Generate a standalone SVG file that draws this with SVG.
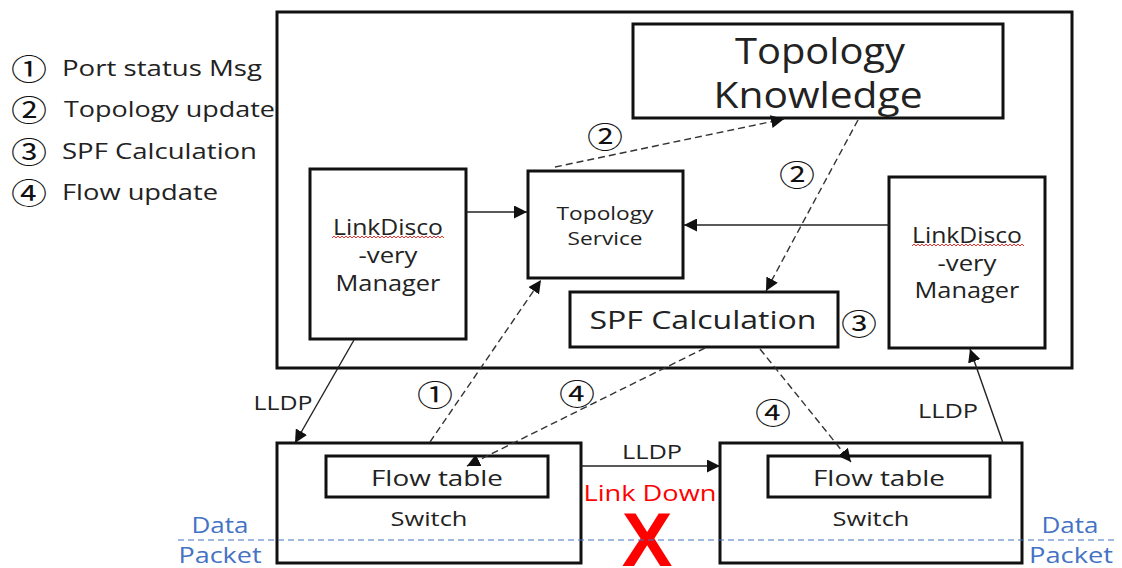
<svg xmlns="http://www.w3.org/2000/svg" width="1122" height="568" viewBox="0 0 1122 568">
<style>
.box{fill:#fff;stroke:#111;stroke-width:3}
.t{font-family:"Open Sans","Liberation Sans",sans-serif;fill:#222;text-anchor:middle;dominant-baseline:central}
.lg{font-family:"Open Sans","Liberation Sans",sans-serif;fill:#222;font-size:22px;dominant-baseline:central}
.cn{font-family:"Noto Sans CJK JP",sans-serif;fill:#111;text-anchor:middle;dominant-baseline:central}
.solid{fill:none;stroke:#222;stroke-width:1.4}
.dash{fill:none;stroke:#333;stroke-width:1.4;stroke-dasharray:7 4}
.blue{font-family:"Open Sans","Liberation Sans",sans-serif;fill:#4472C4;font-size:21px;text-anchor:middle;dominant-baseline:central}
.squig{fill:none;stroke:#e33;stroke-width:1}
</style>
<defs>
<marker id="ah" viewBox="0 0 10 10" refX="10" refY="5" markerWidth="13" markerHeight="13" markerUnits="userSpaceOnUse" orient="auto">
<path d="M0,0 L10,5 L0,10 z" fill="#111"/>
</marker>
</defs>
<rect width="1122" height="568" fill="#fff"/>

<g id="legend">
<text class="cn" x="29" y="67" font-size="30" textLength="36" lengthAdjust="spacingAndGlyphs">①</text>
<text class="lg" x="62" y="67" textLength="200" lengthAdjust="spacingAndGlyphs">Port status Msg</text>
<text class="cn" x="29" y="108" font-size="30" textLength="36" lengthAdjust="spacingAndGlyphs">②</text>
<text class="lg" x="64" y="108" textLength="211" lengthAdjust="spacingAndGlyphs">Topology update</text>
<text class="cn" x="29" y="150" font-size="30" textLength="36" lengthAdjust="spacingAndGlyphs">③</text>
<text class="lg" x="62" y="150" textLength="195" lengthAdjust="spacingAndGlyphs">SPF Calculation</text>
<text class="cn" x="29" y="191" font-size="30" textLength="36" lengthAdjust="spacingAndGlyphs">④</text>
<text class="lg" x="62" y="191" textLength="156" lengthAdjust="spacingAndGlyphs">Flow update</text>
</g>

<g id="controller"><rect class="box" x="277" y="12" width="795" height="356"/></g>

<g id="topology-knowledge">
<rect class="box" x="633" y="24" width="370" height="94"/>
<text class="t" x="820" y="50" font-size="36" textLength="170" lengthAdjust="spacingAndGlyphs">Topology</text>
<text class="t" x="818" y="94" font-size="36" textLength="209" lengthAdjust="spacingAndGlyphs">Knowledge</text>
</g>

<g id="ldm-left">
<rect class="box" x="310" y="169" width="156" height="170"/>
<text class="t" x="388" y="227" font-size="21" textLength="110" lengthAdjust="spacingAndGlyphs">LinkDisco</text>
<text class="t" x="388" y="255" font-size="21" textLength="59" lengthAdjust="spacingAndGlyphs">-very</text>
<text class="t" x="388" y="283" font-size="21" textLength="105" lengthAdjust="spacingAndGlyphs">Manager</text>
<polyline class="squig" points="332,238 334,236 336,238 338,236 340,238 342,236 344,238 346,236 348,238 350,236 352,238 354,236 356,238 358,236 360,238 362,236 364,238 366,236 368,238 370,236 372,238 374,236 376,238 378,236 380,238 382,236 384,238 386,236 388,238 390,236 392,238 394,236 396,238 398,236 400,238 402,236 404,238 406,236 408,238 410,236 412,238 414,236 416,238 418,236 420,238 422,236 424,238 426,236 428,238 430,236 432,238 434,236 436,238 438,236 440,238 442,236 444,238"/>
</g>

<g id="topology-service">
<rect class="box" x="528" y="171" width="155" height="107"/>
<text class="t" x="605" y="213" font-size="18" textLength="97" lengthAdjust="spacingAndGlyphs">Topology</text>
<text class="t" x="605" y="238" font-size="18" textLength="75" lengthAdjust="spacingAndGlyphs">Service</text>
</g>

<g id="spf">
<rect class="box" x="570" y="292" width="268" height="55"/>
<text class="t" x="703" y="319" font-size="25" textLength="227" lengthAdjust="spacingAndGlyphs">SPF Calculation</text>
</g>

<g id="ldm-right">
<rect class="box" x="889" y="177" width="156" height="171"/>
<text class="t" x="967" y="235" font-size="21" textLength="110" lengthAdjust="spacingAndGlyphs">LinkDisco</text>
<text class="t" x="967" y="263" font-size="21" textLength="59" lengthAdjust="spacingAndGlyphs">-very</text>
<text class="t" x="967" y="290" font-size="21" textLength="105" lengthAdjust="spacingAndGlyphs">Manager</text>
<polyline class="squig" points="912,246 914,244 916,246 918,244 920,246 922,244 924,246 926,244 928,246 930,244 932,246 934,244 936,246 938,244 940,246 942,244 944,246 946,244 948,246 950,244 952,246 954,244 956,246 958,244 960,246 962,244 964,246 966,244 968,246 970,244 972,246 974,244 976,246 978,244 980,246 982,244 984,246 986,244 988,246 990,244 992,246 994,244 996,246 998,244 1000,246 1002,244 1004,246 1006,244 1008,246 1010,244 1012,246 1014,244 1016,246 1018,244 1020,246 1022,244 1024,246"/>
</g>

<g id="switch-left">
<rect class="box" x="277" y="443" width="304" height="120"/>
<rect class="box" x="326" y="456" width="222" height="41"/>
<text class="t" x="437" y="477" font-size="22" textLength="132" lengthAdjust="spacingAndGlyphs">Flow table</text>
<text class="t" x="429" y="518" font-size="20" textLength="77" lengthAdjust="spacingAndGlyphs">Switch</text>
</g>

<g id="switch-right">
<rect class="box" x="720" y="443" width="302" height="120"/>
<rect class="box" x="768" y="456" width="222" height="41"/>
<text class="t" x="879" y="477" font-size="22" textLength="132" lengthAdjust="spacingAndGlyphs">Flow table</text>
<text class="t" x="871" y="518" font-size="20" textLength="77" lengthAdjust="spacingAndGlyphs">Switch</text>
</g>

<g id="connectors">
<line class="solid" x1="466" y1="212" x2="527" y2="212" marker-end="url(#ah)"/>
<line class="solid" x1="889" y1="225" x2="684" y2="225" marker-end="url(#ah)"/>
<line class="dash" x1="555" y1="167" x2="784" y2="119" marker-end="url(#ah)"/>
<line class="dash" x1="858" y1="120" x2="766" y2="291" marker-end="url(#ah)"/>
<line class="dash" x1="430" y1="442" x2="541" y2="280" marker-end="url(#ah)"/>
<line class="dash" x1="705" y1="348" x2="467" y2="466" marker-end="url(#ah)"/>
<line class="dash" x1="760" y1="349" x2="851" y2="462" marker-end="url(#ah)"/>
<line class="solid" x1="354" y1="340" x2="295" y2="443" marker-end="url(#ah)"/>
<line class="solid" x1="581" y1="466" x2="720" y2="466" marker-end="url(#ah)"/>
<line class="solid" x1="1003" y1="443" x2="970" y2="349" marker-end="url(#ah)"/>
<text class="t" x="283" y="402" font-size="20" textLength="59" lengthAdjust="spacingAndGlyphs">LLDP</text>
<text class="t" x="652" y="451" font-size="20" textLength="60" lengthAdjust="spacingAndGlyphs">LLDP</text>
<text class="t" x="948" y="410" font-size="20" textLength="60" lengthAdjust="spacingAndGlyphs">LLDP</text>
<text class="cn" x="605" y="135" font-size="29" textLength="36" lengthAdjust="spacingAndGlyphs">②</text>
<text class="cn" x="797" y="173" font-size="29" textLength="36" lengthAdjust="spacingAndGlyphs">②</text>
<text class="cn" x="859" y="322" font-size="29" textLength="36" lengthAdjust="spacingAndGlyphs">③</text>
<text class="cn" x="435" y="393" font-size="29" textLength="36" lengthAdjust="spacingAndGlyphs">①</text>
<text class="cn" x="577" y="392" font-size="29" textLength="36" lengthAdjust="spacingAndGlyphs">④</text>
<text class="cn" x="773" y="411" font-size="29" textLength="36" lengthAdjust="spacingAndGlyphs">④</text>
</g>

<g id="link-down">
<text x="650" y="493" font-family="Open Sans, Liberation Sans, sans-serif" font-size="21" fill="#ff0000" text-anchor="middle" dominant-baseline="central" textLength="133" lengthAdjust="spacingAndGlyphs">Link Down</text>
<text x="647" y="566" font-family="Liberation Sans, sans-serif" font-weight="bold" font-size="76" fill="#ff0000" text-anchor="middle">X</text>
</g>

<g id="data-packet">
<line x1="178" y1="540" x2="1118" y2="540" stroke="#4472C4" stroke-width="1.2" stroke-dasharray="6 4"/>
<text class="blue" x="220" y="525" textLength="57" lengthAdjust="spacingAndGlyphs">Data</text>
<text class="blue" x="220" y="555" textLength="83" lengthAdjust="spacingAndGlyphs">Packet</text>
<text class="blue" x="1070" y="525" textLength="57" lengthAdjust="spacingAndGlyphs">Data</text>
<text class="blue" x="1071" y="555" textLength="84" lengthAdjust="spacingAndGlyphs">Packet</text>
</g>
</svg>
